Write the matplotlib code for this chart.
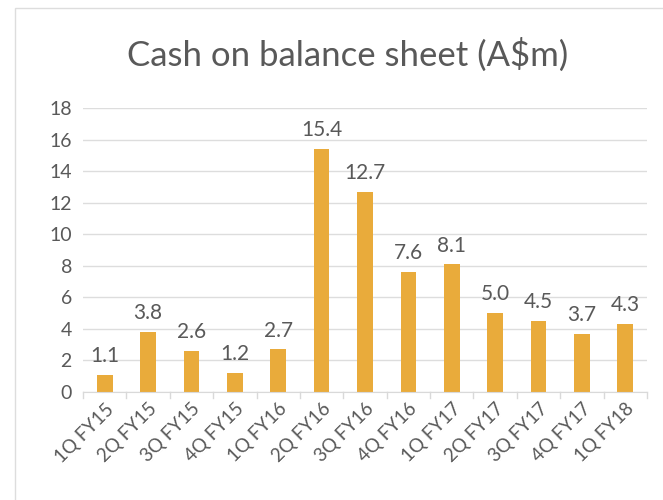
import matplotlib.pyplot as plt
from matplotlib.patches import Rectangle

quarters = ["1Q FY15", "2Q FY15", "3Q FY15", "4Q FY15", "1Q FY16", "2Q FY16",
            "3Q FY16", "4Q FY16", "1Q FY17", "2Q FY17", "3Q FY17", "4Q FY17", "1Q FY18"]
cash = [1.1, 3.8, 2.6, 1.2, 2.7, 15.4, 12.7, 7.6, 8.1, 5.0, 4.5, 3.7, 4.3]
y_ticks = [0, 2, 4, 6, 8, 10, 12, 14, 16, 18]

plt.rcParams["font.family"] = ["Lato", "DejaVu Sans"]
text_color = "#595959"
bar_color = "#E9AB3B"

fig = plt.figure(figsize=(6.63, 5), dpi=100)
fig.patches.append(Rectangle((15 / 663, -0.1), 1.2, 0.1 + 492 / 500,
                             transform=fig.transFigure, fill=False,
                             edgecolor="#DDDDDD", linewidth=1.0))

ax = fig.add_axes([83 / 663, 108 / 500, 564 / 663, 284 / 500])
x = range(len(quarters))
ax.bar(x, cash, width=0.36, color=bar_color, zorder=3)

for xi, v in zip(x, cash):
    ax.text(xi, v + 0.55, f"{v:.1f}", ha="center", va="bottom",
            fontsize=15, color=text_color)

ax.set_xlim(-0.5, len(quarters) - 0.5)
ax.set_ylim(0, 18)
ax.set_yticks(y_ticks)
ax.set_xticks(list(x))
ax.set_xticklabels(quarters, rotation=45, ha="right", rotation_mode="anchor")
ax.tick_params(axis="y", length=0, labelsize=14, labelcolor=text_color, pad=8)
ax.tick_params(axis="x", length=0, labelsize=13.5, labelcolor=text_color, pad=6)
ax.grid(axis="y", color="#DDDDDD", linewidth=1, zorder=0)

for s in ["top", "right", "left"]:
    ax.spines[s].set_visible(False)
ax.spines["bottom"].set_color("#D9D9D9")
ax.spines["bottom"].set_zorder(4)

# small category separators under the axis
for b in range(len(quarters) + 1):
    ax.plot([b - 0.5, b - 0.5], [0, -0.35], color="#D9D9D9", linewidth=1,
            clip_on=False, zorder=4)

fig.text(348 / 663, 0.89, "Cash on balance sheet (A$m)", ha="center", va="center",
         fontsize=25, color=text_color)

fig.savefig("out.png", dpi=100)
